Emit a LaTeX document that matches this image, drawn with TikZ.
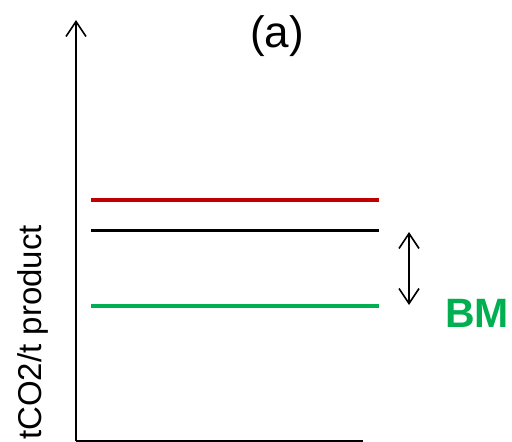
\documentclass[tikz,border=0pt]{standalone}
\usepackage{fontspec}
\setmainfont{Liberation Sans}
\usetikzlibrary{arrows.meta}
\definecolor{bmgreen}{RGB}{0,176,80}
\definecolor{darkred}{RGB}{192,0,0}
\tikzset{
  axisline/.style={line width=1.6pt, black},
  level/.style={line width=4pt},
  barb/.style={-{Straight Barb[length=15pt,width=20pt,line width=1.6pt]}},
  dbarb/.style={{Straight Barb[length=15pt,width=20pt,line width=1.6pt]}-{Straight Barb[length=15pt,width=20pt,line width=1.6pt]}, line width=1.6pt},
}
\begin{document}
\begin{tikzpicture}[x=1pt,y=-1pt]
\useasboundingbox (0,0) rectangle (512,442);
\coordinate (origin) at (76,441);
\coordinate (ytop) at (76,20);
\coordinate (xend) at (363,441);
\draw[axisline] (xend) -- (origin);
\draw[axisline,barb] (origin) -- (ytop);
\coordinate (r1) at (91,200); \coordinate (r2) at (379,200);
\coordinate (k1) at (91,230); \coordinate (k2) at (379,230);
\coordinate (g1) at (91,306); \coordinate (g2) at (379,306);
\draw[level,darkred] (r1) -- (r2);
\draw[line width=3pt,black] (k1) -- (k2);
\draw[level,bmgreen] (g1) -- (g2);
\coordinate (atop) at (409,232);
\coordinate (abot) at (409,305);
\draw[dbarb] (atop) -- (abot);
\node[font=\fontsize{44}{44}\selectfont] (title) at (277,36) {(a)};
\node[font=\fontsize{41}{41}\selectfont\bfseries, text=bmgreen] (bm) at (477,313) {BM};
\node[font=\fontsize{33}{34}\selectfont, rotate=90] (ylabel) at (33,332.5) {tCO2/t product};
\end{tikzpicture}
\end{document}
